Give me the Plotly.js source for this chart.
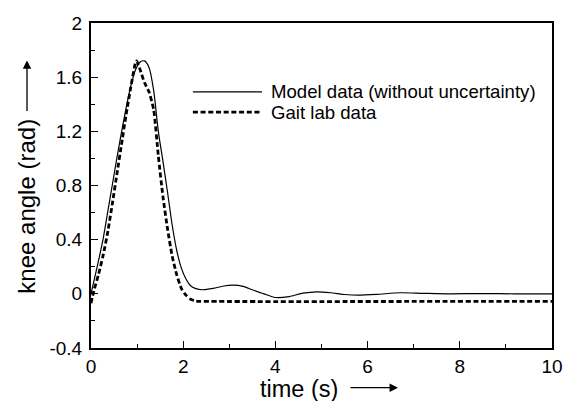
<!DOCTYPE html>
<html>
<head>
<meta charset="utf-8">
<script src="https://cdn.plot.ly/plotly-3.0.1.min.js"></script>
<style>html,body{margin:0;padding:0;background:#fff;}#chart{width:571px;height:401px;}</style>
</head>
<body>
<div id="chart"></div>
<script>
// ---- data ----
const modelTime = [0,0.06,0.16,0.26,0.36,0.46,0.56,0.66,0.76,0.86,0.96,1.06,1.16,1.26,1.36,1.46,1.56,1.66,1.76,1.86,1.96,2.06,2.16,2.26,2.42,2.65,2.88,3.08,3.3,3.5,3.75,4.0,4.3,4.6,4.9,5.2,5.5,5.8,6.2,6.7,7.2,7.8,8.5,9.2,10];
const modelAngle = [0,0.09,0.24,0.40,0.60,0.80,1.00,1.19,1.37,1.53,1.65,1.71,1.72,1.67,1.50,1.20,0.98,0.75,0.51,0.32,0.19,0.11,0.06,0.04,0.03,0.04,0.058,0.064,0.055,0.03,0.0,-0.027,-0.02,0.005,0.015,0.008,-0.005,-0.01,-0.004,0.008,0.004,0,0.002,0,0];
const gaitTime = [0,0.06,0.16,0.26,0.36,0.46,0.56,0.66,0.76,0.86,0.96,0.99,1.06,1.16,1.26,1.36,1.46,1.56,1.66,1.76,1.86,1.96,2.06,2.16,2.26,2.36,10];
const gaitAngle = [-0.07,0.02,0.14,0.28,0.45,0.66,0.88,1.10,1.32,1.52,1.70,1.72,1.66,1.56,1.49,1.36,1.02,0.72,0.48,0.28,0.14,0.04,-0.01,-0.04,-0.052,-0.055,-0.055];
const seriesNames = ["Model data (without uncertainty)", "Gait lab data"];
const xTickVals = [0,2,4,6,8,10];
const xTickText = ["0","2","4","6","8","10"];
const yTickVals = [-0.4,0,0.4,0.8,1.2,1.6,2];
const yTickText = ["-0.4","0","0.4","0.8","1.2","1.6","2"];
const xTitle = "time (s)";
const yTitle = "knee angle (rad)";

const FONT = "Liberation Sans, Arial, sans-serif";
const dashPat = "5px,2.7px";

const traces = [
  {x: modelTime, y: modelAngle, mode: "lines", name: seriesNames[0],
   line: {color: "#000", width: 1.2, shape: "spline", smoothing: 0.7}, showlegend: false},
  {x: gaitTime, y: gaitAngle, mode: "lines", name: seriesNames[1],
   line: {color: "#000", width: 2.8, dash: dashPat, shape: "spline", smoothing: 0.5}, showlegend: false}
];

const axisCommon = {
  showline: true, linecolor: "#000", linewidth: 2, mirror: true,
  showgrid: false, zeroline: false, ticks: "inside", ticklen: 7, tickwidth: 1.2, tickcolor: "#000",
  tickfont: {family: FONT, size: 19, color: "#000"}
};

const layout = {
  width: 571, height: 401,
  margin: {l: 91, r: 19, t: 23, b: 53},
  paper_bgcolor: "#fff", plot_bgcolor: "#fff",
  showlegend: false,
  xaxis: Object.assign({}, axisCommon, {
    range: [0, 10], tickvals: xTickVals, ticktext: xTickText,
    minor: {tickvals: [1,3,5,7,9], ticks: "inside", ticklen: 4, tickwidth: 1, tickcolor: "#000"}
  }),
  yaxis: Object.assign({}, axisCommon, {
    range: [-0.4, 2], tickvals: yTickVals, ticktext: yTickText, ticklabelstandoff: 3,
    minor: {tickvals: [-0.2,0.2,0.6,1.0,1.4,1.8], ticks: "inside", ticklen: 4, tickwidth: 1, tickcolor: "#000"}
  }),
  shapes: [
    {type: "line", xref: "paper", yref: "paper", x0: 0.221, x1: 0.371, y0: 0.788, y1: 0.788,
     line: {color: "#000", width: 1.2}},
    {type: "line", xref: "paper", yref: "paper", x0: 0.221, x1: 0.371, y0: 0.726, y1: 0.726,
     line: {color: "#000", width: 2.8, dash: dashPat}}
  ],
  annotations: [
    {xref: "paper", yref: "paper", x: 0.386, y: 0.788, xanchor: "left", yanchor: "middle",
     text: seriesNames[0], showarrow: false, font: {family: FONT, size: 18.6, color: "#000"}},
    {xref: "paper", yref: "paper", x: 0.386, y: 0.726, xanchor: "left", yanchor: "middle",
     text: seriesNames[1], showarrow: false, font: {family: FONT, size: 18.6, color: "#000"}},
    {xref: "paper", yref: "paper", x: 0.451, y: -0.127, xanchor: "center", yanchor: "middle",
     text: xTitle, showarrow: false, font: {family: FONT, size: 23.5, color: "#000"}},
    {xref: "paper", yref: "paper", x: 0.666, y: -0.122, text: "", showarrow: true,
     ax: -49, ay: 0, arrowhead: 2, arrowsize: 1.3, arrowwidth: 1.3, arrowcolor: "#000", standoff: 0},
    {xref: "paper", yref: "paper", x: -0.1388, y: 0.435, xanchor: "center", yanchor: "middle",
     text: yTitle, textangle: -90, showarrow: false, font: {family: FONT, size: 24, color: "#000"}},
    {xref: "paper", yref: "paper", x: -0.1388, y: 0.885, text: "", showarrow: true,
     ax: 0, ay: 52, arrowhead: 2, arrowsize: 1.3, arrowwidth: 1.3, arrowcolor: "#000", standoff: 0}
  ]
};

Plotly.newPlot("chart", traces, layout, {displayModeBar: false, staticPlot: true});
</script>
</body>
</html>
